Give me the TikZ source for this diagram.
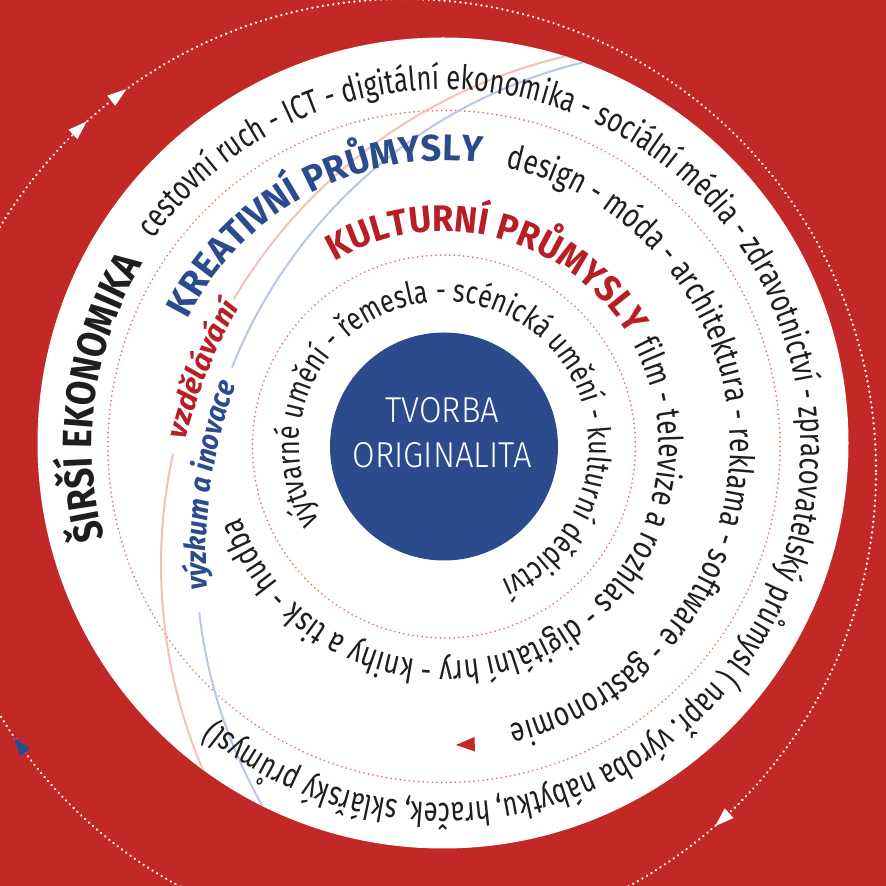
\documentclass[tikz,border=0pt]{standalone}
\usepackage{fontspec}
\setmainfont{Fira Sans}
\usetikzlibrary{decorations.text}

\definecolor{bgred}{RGB}{193,40,38}
\definecolor{cblue}{RGB}{43,75,140}
\definecolor{kred}{RGB}{183,30,38}
\definecolor{dotred}{RGB}{226,112,92}
\definecolor{pinkline}{RGB}{241,194,188}
\definecolor{blueline}{RGB}{186,198,230}
\definecolor{txtblack}{RGB}{30,30,30}

% make a font whose natural text width fits a target length
\newcommand\mkfont[6]{%
  \setbox0=\hbox{\fontspec{#2}#3\fontsize{#4}{#4}\selectfont #5}%
  \pgfmathsetmacro\mkst{(#6)/\the\wd0}%
  \edef\mktmp{\noexpand\newfontfamily\noexpand#1{#2}[FakeStretch=\mkst]}%
  \mktmp}

\mkfont{\fA}{Fira Sans}{}{32}{výtvarné umění - řemesla - scénická umění - kulturní dědictví}{701.0}
\mkfont{\fB}{Fira Sans}{\bfseries}{37}{KULTURNÍ PRŮMYSLY}{328.0}
\mkfont{\fC}{Fira Sans}{}{34}{film - televize a rozhlas - digitální hry - knihy a tisk - hudba}{705.8}
\mkfont{\fD}{Fira Sans}{\bfseries}{37}{KREATIVNÍ PRŮMYSLY}{348.4}
\mkfont{\fE}{Fira Sans}{}{34}{design - móda - architektura - reklama - software - gastronomie}{764.7}
\mkfont{\fF}{Fira Sans}{\bfseries}{41}{ŠIRŠÍ EKONOMIKA}{284.4}
\mkfont{\fG}{Fira Sans}{}{34}{cestovní ruch - ICT - digitální ekonomika - sociální média - zdravotnictví - zpracovatelský průmysl ( např. výroba nábytku, hraček, sklářský průmysl)}{1699.8}
\mkfont{\fH}{Fira Sans}{\bfseries\itshape}{29}{vzdělávání}{143.3}
\mkfont{\fI}{Fira Sans}{\bfseries\itshape}{29}{výzkum a inovace}{208.2}
\mkfont{\fT}{Fira Sans Light}{}{36}{ORIGINALITA}{179}

\begin{document}
\begin{tikzpicture}[x=1pt,y=1pt,
  whitedots/.style={white, line width=2.6pt, line cap=round, dash pattern=on 0.01pt off 5.3pt},
  reddots/.style={dotred, line width=1.9pt, line cap=round, dash pattern=on 0.01pt off 4.6pt},
  pinkarc/.style={pinkline, line width=2pt},
  bluearc/.style={blueline, line width=2pt},
  centretext/.style={anchor=base, inner sep=0pt, text=white, font=\fT\fontsize{36}{36}\selectfont}]
\useasboundingbox (0,0) rectangle (886,886);
\fill[bgred] (0,0) rectangle (886,886);

% outer dotted loop with arrowheads
\draw[whitedots] (404,415) circle[radius=472pt];
\foreach \a in {133.5,127.3,-47.5}
  \fill[white, shift={(404,415)}, rotate=\a] (472,-10.5) -- (465.5,8.5) -- (478.5,8.5) -- cycle;
\fill[cblue, shift={(404,415)}, rotate=215.6] (472,-10.5) -- (465.5,8.5) -- (478.5,8.5) -- cycle;

% white disc
\fill[white] (443,443) circle[radius=405.5pt];

% dotted ring borders
\draw[reddots] (444,439.5) circle[radius=336pt];
\draw[reddots] (444,439.5) circle[radius=191.5pt];

% pink and blue arcs
\begin{scope}
  \clip (443,443) circle[radius=405.5pt];
  \draw[pinkarc, shift={(683,321)}] (149.4:522pt) arc[start angle=149.4, end angle=90, radius=522pt];
  \draw[pinkarc, shift={(683,321)}] (167.7:522pt) arc[start angle=167.7, end angle=220, radius=522pt];
  \draw[bluearc, shift={(703,331)}] (158.3:507pt) arc[start angle=158.3, end angle=90, radius=507pt];
  \draw[bluearc, shift={(703,331)}] (186.5:507pt) arc[start angle=186.5, end angle=225, radius=507pt];
\end{scope}

% centre disc
\fill[cblue] (444,439.5) circle[radius=114pt];
\node[centretext] (tvorba) at (442,463) {TVORBA};
\node[centretext] (orig) at (442,418) {ORIGINALITA};

% small red arrowhead
\fill[bgred] (456,141) -- (474.5,149) -- (475,134.5) -- cycle;

% ring texts
\path[shift={(444,439.5)}, decorate, decoration={text along path, text align=left, text color=txtblack,
  text={|\fA\fontsize{32}{32}\selectfont|výtvarné umění - řemesla - scénická umění - kulturní dědictví}}]
  (211:145pt) arc[start angle=211, end angle=-80, radius=145pt];

\path[shift={(444,439.5)}, decorate, decoration={text along path, text align=left, text color=kred,
  text={|\fB\bfseries\fontsize{37}{37}\selectfont|KULTURNÍ PRŮMYSLY}}]
  (120.6:215pt) arc[start angle=120.6, end angle=25, radius=215pt];

\path[shift={(444,439.5)}, decorate, decoration={text along path, text align=left, text color=txtblack,
  text={|\fC\fontsize{34}{34}\selectfont|film - televize a rozhlas - digitální hry - knihy a tisk - hudba}}]
  (28.3:215pt) arc[start angle=28.3, end angle=-175, radius=215pt];

\path[shift={(444,439.5)}, decorate, decoration={text along path, text align=left, text color=cblue,
  text={|\fD\bfseries\fontsize{37}{37}\selectfont|KREATIVNÍ PRŮMYSLY}}]
  (153.6:286pt) arc[start angle=153.6, end angle=75, radius=286pt];

\path[shift={(444,439.5)}, decorate, decoration={text along path, text align=left, text color=txtblack,
  text={|\fE\fontsize{34}{34}\selectfont|design - móda - architektura - reklama - software - gastronomie}}]
  (77.5:286pt) arc[start angle=77.5, end angle=-90, radius=286pt];

\path[shift={(444,439.5)}, decorate, decoration={text along path, text align=left, text color=txtblack,
  text={|\fF\bfseries\fontsize{41}{41}\selectfont|ŠIRŠÍ EKONOMIKA}}]
  (195.2:352pt) arc[start angle=195.2, end angle=140, radius=352pt];

\path[shift={(444,439.5)}, decorate, decoration={text along path, text align=left, text color=txtblack,
  text={|\fG\fontsize{34}{34}\selectfont|cestovní ruch - ICT - digitální ekonomika - sociální média - zdravotnictví - zpracovatelský průmysl ( např. výroba nábytku, hraček, sklářský průmysl)}}]
  (144.5:357pt) arc[start angle=144.5, end angle=-140, radius=357pt];

\path[shift={(683,321)}, decorate, decoration={text along path, text align=left, text color=kred,
  text={|\fH\bfseries\itshape\fontsize{29}{29}\selectfont|vzdělávání}}]
  (165.9:513pt) arc[start angle=165.9, end angle=145, radius=513pt];

\path[shift={(703,331)}, decorate, decoration={text along path, text align=left, text color=cblue,
  text={|\fI\bfseries\itshape\fontsize{29}{29}\selectfont|výzkum a inovace}}]
  (184:497pt) arc[start angle=184, end angle=155, radius=497pt];
\end{tikzpicture}
\end{document}
